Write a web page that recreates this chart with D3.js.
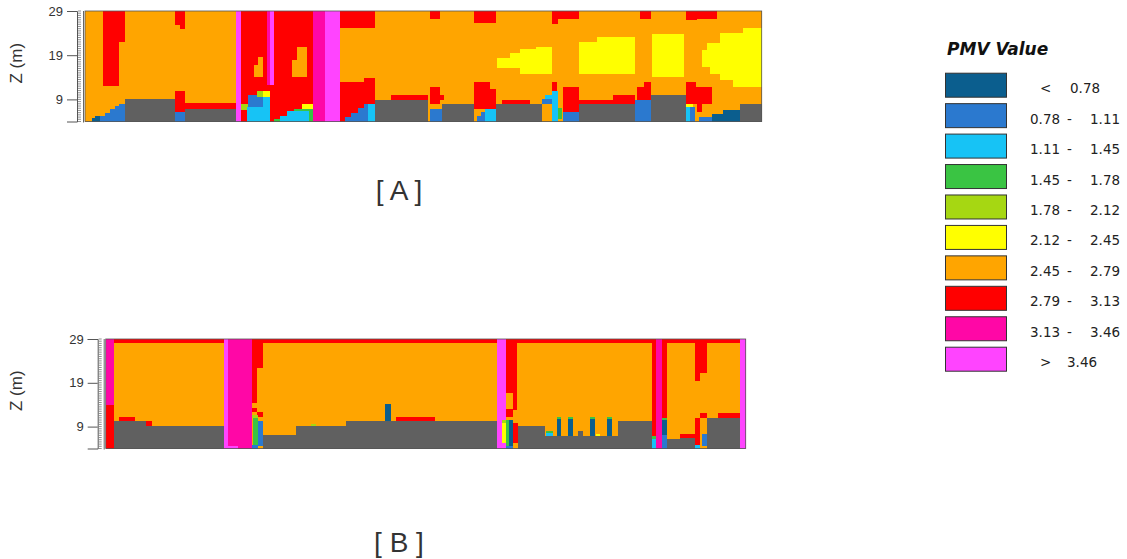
<!DOCTYPE html>
<html>
<head>
<meta charset="utf-8">
<script src="https://cdn.jsdelivr.net/npm/d3@7"></script>
<style>
  body { margin: 0; background: #fff; }
  svg { display: block; }
</style>
</head>
<body>
<svg id="chart" width="1127" height="559"></svg>
<script>
// PMV classes (index = class id), 10 = ground / building
const classColors = ["#0b5e8e", "#2b79cf", "#17c3f5", "#3ac443", "#a6d712",
                     "#ffff00", "#ffa500", "#ff0000", "#ff07a6", "#ff44ff", "#606060"];
const legendLow  = ["<", "0.78", "1.11", "1.45", "1.78", "2.12", "2.45", "2.79", "3.13", ">"];
const legendHigh = ["0.78", "1.11", "1.45", "1.78", "2.12", "2.45", "2.79", "3.13", "3.46", "3.46"];
const zTicks = [9, 19, 29];

// section A : [x0, x1, z0, z1, class]  (x, z in metres)
const sectionA = [
  [0, 153.8, 4, 29, 6],
  // yellow cores
  [93.6, 106.1, 16.0, 18.3, 5], [96.6, 106.1, 18.3, 19.4, 5], [98.9, 106.1, 19.4, 20.3, 5],
  [102.5, 106.1, 20.3, 20.9, 5], [98.9, 106.1, 14.8, 16.0, 5],
  [112.3, 125.0, 14.8, 22.0, 5], [116.3, 125.0, 22.0, 23.2, 5],
  [128.8, 136.2, 14.1, 23.9, 5],
  [149.6, 153.8, 24.0, 25.1, 5], [144.3, 153.8, 21.7, 24.0, 5], [141.3, 153.8, 20.2, 21.7, 5],
  [140.2, 153.8, 16.4, 20.2, 5], [142.0, 153.8, 14.8, 16.4, 5], [144.3, 153.8, 13.3, 14.8, 5],
  [147.3, 153.8, 11.8, 13.3, 5],
  // red zones
  [4.0, 9.1, 22.0, 29, 7], [4.0, 7.8, 12.0, 22.0, 7],
  [20.5, 22.7, 25.8, 29, 7], [21.6, 22.7, 25.0, 25.8, 7],
  [20.5, 22.7, 6.1, 10.9, 7], [22.7, 34.3, 6.9, 8.1, 7],
  [35.4, 51.9, 4, 29, 7],
  [39.4, 40.5, 16.7, 18.6, 6], [38.3, 40.5, 14.1, 16.7, 6],
  [48.1, 50.4, 17.9, 20.9, 6], [47.0, 50.4, 14.1, 17.9, 6],
  [58.0, 65.8, 25.1, 29, 7], [58.0, 65.8, 4, 12.9, 7], [63.3, 65.8, 12.9, 13.9, 7],
  [69.5, 78.0, 8.9, 9.9, 7], [78.4, 80.7, 8.0, 11.8, 7], [80.7, 81.5, 8.9, 9.9, 7],
  [78.4, 80.7, 27.3, 29, 7],
  [88.5, 93.4, 26.2, 29, 7], [88.5, 92.0, 11.4, 12.9, 7], [88.5, 93.4, 6.9, 11.4, 7],
  [94.7, 101.1, 7.9, 8.9, 7],
  [106.1, 112.3, 27.3, 29, 7], [106.1, 107.5, 26.0, 27.3, 7],
  [126.1, 128.6, 27.1, 29, 7],
  [136.5, 143.6, 27.3, 29, 7], [136.5, 139.0, 26.9, 27.3, 7],
  [106.1, 107.2, 11.0, 12.9, 7], [108.7, 112.3, 6.1, 11.8, 7],
  [112.3, 120.1, 8.0, 8.8, 7], [120.1, 125.0, 8.0, 9.9, 7],
  [125.5, 128.6, 8.8, 11.8, 7], [127.0, 128.6, 11.8, 12.9, 7],
  [136.5, 138.8, 11.8, 12.9, 7], [136.5, 142.4, 8.0, 11.8, 7], [139.0, 140.2, 6.1, 8.0, 7],
  // hot columns
  [34.3, 35.4, 4, 29, 9], [41.3, 42.0, 12.2, 29, 8], [42.0, 43.0, 12.2, 29, 9],
  [51.9, 54.5, 4, 29, 8], [54.5, 58.0, 4, 29, 9],
  // cool pockets near the ground
  [1.5, 3.4, 4, 4.8, 0], [2.3, 3.4, 4.8, 5.3, 0],
  [3.4, 9.1, 4, 5.3, 1], [4.5, 9.1, 5.3, 6.0, 1], [5.7, 9.1, 6.0, 6.8, 1],
  [6.8, 9.1, 6.8, 7.5, 1], [7.8, 9.1, 7.5, 7.9, 1],
  [20.5, 22.7, 4, 6.1, 1],
  [35.4, 37.1, 6.5, 8.0, 4], [37.1, 41.3, 6.1, 9.9, 1], [36.8, 40.5, 4, 7.2, 2],
  [39.0, 42.0, 9.5, 11.0, 4], [40.5, 42.0, 9.5, 11.0, 5], [40.5, 42.0, 4, 9.5, 2],
  [43.0, 44.3, 4, 4.6, 3],
  [44.3, 50.8, 4, 5.2, 2], [46.0, 50.8, 5.2, 6.3, 2], [47.5, 50.8, 6.3, 6.9, 3],
  [49.3, 51.9, 6.9, 7.9, 5], [50.8, 51.9, 4, 6.9, 3],
  [59.0, 65.8, 4, 5.0, 1], [60.5, 65.8, 5.0, 6.0, 1], [62.0, 65.8, 6.0, 7.0, 1],
  [63.3, 65.8, 7.0, 8.0, 1], [64.3, 65.8, 4, 8.0, 2],
  [78.4, 81.1, 4, 6.9, 1],
  [89.0, 91.0, 4, 5.2, 1], [90.0, 91.5, 5.2, 6.2, 1], [91.0, 93.4, 4, 6.9, 2],
  [103.8, 106.5, 8.0, 9.0, 1], [104.5, 106.5, 9.0, 10.0, 2],
  [106.1, 107.5, 4, 11.0, 2], [107.5, 108.4, 4.6, 7.0, 3],
  [108.7, 112.3, 4, 6.1, 1], [125.0, 128.6, 4, 8.8, 1],
  [136.5, 138.2, 7.2, 8.0, 5], [136.5, 137.6, 4, 7.2, 2], [137.6, 138.6, 4, 7.2, 1],
  [139.5, 142.4, 4, 5.0, 1], [142.4, 148.9, 4, 5.7, 0], [145.0, 148.9, 5.7, 6.5, 0],
  // buildings
  [9.1, 20.5, 4, 9.0, 10], [22.7, 34.3, 4, 6.9, 10], [65.8, 78.0, 4, 8.9, 10],
  [81.1, 88.3, 4, 7.9, 10], [93.4, 101.1, 4, 7.9, 10], [98.9, 103.8, 4, 8.0, 10],
  [112.3, 125.0, 4, 8.0, 10], [128.6, 136.5, 4, 9.9, 10], [148.9, 153.8, 4, 8.0, 10]
];

// section B : [x0, x1, z0, z1, class]
const sectionB = [
  [0, 145.5, 4, 29, 6],
  [0, 145.5, 28.2, 29, 7],
  [0, 1.9, 14.0, 29, 8], [0, 1.9, 4, 14.0, 7],
  [3.1, 6.7, 10.2, 11.2, 7], [9.2, 10.5, 9.1, 10.2, 7],
  [1.9, 9.2, 4, 10.2, 10], [9.2, 26.9, 4, 9.1, 10],
  [26.9, 27.9, 4, 29, 9], [27.9, 33.2, 4, 29, 8], [27.9, 30.0, 4, 4.5, 9],
  [33.2, 35.8, 22.3, 28.2, 7], [33.2, 34.5, 14.4, 22.3, 7],
  [33.2, 34.5, 12.3, 13.2, 7], [34.5, 35.8, 11.2, 12.3, 7],
  [33.2, 34.7, 10.9, 11.6, 4], [33.4, 34.7, 4.9, 10.9, 3], [34.7, 35.8, 4.5, 10.2, 1],
  [33.2, 34.7, 4, 4.9, 1],
  [35.8, 43.3, 4, 7.0, 10], [43.3, 54.7, 4, 9.1, 10], [46.6, 47.8, 9.1, 9.7, 4],
  [54.7, 88.9, 4, 10.2, 10],
  [63.5, 64.8, 10.2, 14.2, 0], [66.0, 74.8, 10.2, 11.2, 7],
  [88.9, 90.0, 4, 29, 9], [90.0, 91.1, 10.5, 29, 9], [90.0, 91.1, 9.8, 10.5, 4],
  [90.0, 91.1, 5.3, 9.8, 5], [90.0, 91.1, 4, 5.3, 9],
  [91.1, 93.4, 16.7, 28.2, 7], [92.5, 93.4, 12.9, 16.7, 7], [91.1, 92.6, 11.2, 13.0, 7],
  [91.1, 91.6, 4.5, 10.5, 3], [91.6, 92.6, 4.5, 10.5, 0], [91.1, 92.6, 4, 4.5, 1],
  [92.6, 93.8, 5.3, 9.9, 7],
  [93.8, 99.8, 4, 9.1, 10], [99.8, 116.5, 4, 6.8, 10],
  [100.2, 101.7, 6.8, 7.6, 2], [100.2, 101.7, 7.6, 8.1, 3],
  [102.5, 103.6, 6.8, 10.7, 0], [102.5, 103.6, 10.7, 11.3, 3],
  [105.0, 106.3, 6.8, 10.7, 0], [105.0, 106.3, 10.7, 11.3, 3],
  [107.3, 108.5, 6.8, 8.1, 10],
  [110.1, 111.2, 6.8, 10.7, 0], [110.1, 111.2, 10.7, 11.3, 3],
  [111.4, 112.3, 6.8, 7.4, 5],
  [113.9, 115.0, 6.8, 10.7, 0], [113.9, 115.0, 10.7, 11.3, 3],
  [116.5, 124.1, 4, 10.2, 10],
  [124.1, 125.2, 6.6, 28.2, 7], [124.1, 125.2, 4, 6.2, 2], [124.1, 125.2, 6.2, 6.8, 3],
  [125.2, 126.4, 4, 29, 8],
  [126.4, 127.6, 11.0, 28.2, 7], [126.4, 127.6, 4, 7.0, 1], [126.4, 127.6, 7.0, 10.5, 0],
  [126.4, 127.6, 10.5, 11.0, 3],
  [127.6, 130.5, 4, 6.1, 10], [130.5, 133.9, 4, 6.3, 10],
  [133.9, 136.6, 21.2, 28.2, 7], [133.9, 135.0, 19.3, 21.2, 7],
  [133.9, 135.0, 4.8, 11.0, 7], [135.0, 136.6, 11.0, 12.0, 7], [130.5, 133.9, 6.3, 7.2, 7],
  [135.5, 136.6, 4.5, 7.2, 1], [133.9, 135.0, 4, 4.8, 2],
  [136.6, 144.2, 4, 11.0, 10], [139.2, 144.2, 11.0, 12.0, 7],
  [144.2, 145.5, 4, 29, 9]
];

const svg = d3.select("#chart");

function drawSection(cells, width, left, right, top, bottom, axisX, label, labelY) {
  const x = d3.scaleLinear().domain([0, width]).range([left, right]);
  const y = d3.scaleLinear().domain([4, 29]).range([bottom, top]);
  const g = svg.append("g");

  g.append("g").attr("shape-rendering", "crispEdges")
    .selectAll("rect").data(cells).join("rect")
    .attr("x", d => x(d[0]))
    .attr("y", d => y(d[3]))
    .attr("width", d => x(d[1]) - x(d[0]))
    .attr("height", d => y(d[2]) - y(d[3]))
    .attr("fill", d => classColors[d[4]]);

  g.append("rect")
    .attr("x", left).attr("y", top)
    .attr("width", right - left).attr("height", bottom - top)
    .attr("fill", "none").attr("stroke", "#555").attr("stroke-width", 0.8);

  // left axis with ruler ticks
  const ax = g.append("g").attr("transform", `translate(${axisX},0)`)
    .call(d3.axisLeft(y).tickValues(zTicks).tickSize(10).tickFormat(d3.format("d")));
  ax.select(".domain").attr("stroke", "#555");
  ax.selectAll(".tick line").attr("stroke", "#555");
  ax.selectAll("text").attr("font-family", "Liberation Sans, Arial, sans-serif")
    .attr("font-size", 13).attr("fill", "#333").attr("dx", -1);

  g.append("line")
    .attr("x1", left - 1.5).attr("x2", left - 1.5)
    .attr("y1", top).attr("y2", bottom + 1)
    .attr("stroke", "#666");
  g.append("g").selectAll("line").data(d3.range(4, 29.01, 0.5)).join("line")
    .attr("x1", axisX + 1).attr("x2", axisX + 4)
    .attr("y1", d => y(d)).attr("y2", d => y(d))
    .attr("stroke", "#777").attr("stroke-width", 0.8);

  g.append("text")
    .attr("transform", `translate(22,${(top + bottom) / 2 - 3}) rotate(-90)`)
    .attr("text-anchor", "middle")
    .attr("font-family", "Liberation Sans, Arial, sans-serif")
    .attr("font-size", 17).attr("fill", "#333")
    .text("Z (m)");

  svg.append("text")
    .attr("x", 399).attr("y", labelY)
    .attr("text-anchor", "middle")
    .attr("font-family", "Liberation Sans, Arial, sans-serif")
    .attr("font-size", 28).attr("fill", "#333")
    .attr("xml:space", "preserve")
    .text(label);
}

drawSection(sectionA, 153.8, 85, 761.7, 11, 121.5, 77, "[ A ]", 200);
drawSection(sectionB, 145.5, 105.7, 745.7, 339, 448.5, 97.7, "[ B ]", 552);

// legend
const legend = svg.append("g");
legend.append("text")
  .attr("x", 947).attr("y", 55)
  .attr("font-family", "DejaVu Sans, Verdana, sans-serif")
  .attr("font-size", 17).attr("font-weight", "bold").attr("font-style", "italic")
  .attr("fill", "#111")
  .text("PMV Value");

const rowY = d3.scaleLinear().domain([0, 9]).range([72.7, 346.7]);
const rows = legend.selectAll("g.row").data(legendLow).join("g").attr("class", "row")
  .attr("transform", (d, i) => `translate(0,${rowY(i)})`);
rows.append("rect")
  .attr("x", 945.5).attr("y", 0.5).attr("width", 61).attr("height", 24)
  .attr("fill", (d, i) => classColors[i])
  .attr("stroke", "#333").attr("stroke-width", 1);

const lf = "DejaVu Sans, Verdana, sans-serif";
rows.each(function (d, i) {
  const r = d3.select(this);
  const t = (xx, s) => r.append("text").attr("x", xx).attr("y", 20.5)
    .attr("font-family", lf).attr("font-size", 13.5).attr("fill", "#222").text(s);
  if (d === "<" || d === ">") {
    t(1040, d);
    t(d === "<" ? 1070 : 1067, legendHigh[i]);
  } else {
    t(1030, d);
    t(1067, "-");
    t(1090, legendHigh[i]);
  }
});
</script>
</body>
</html>
